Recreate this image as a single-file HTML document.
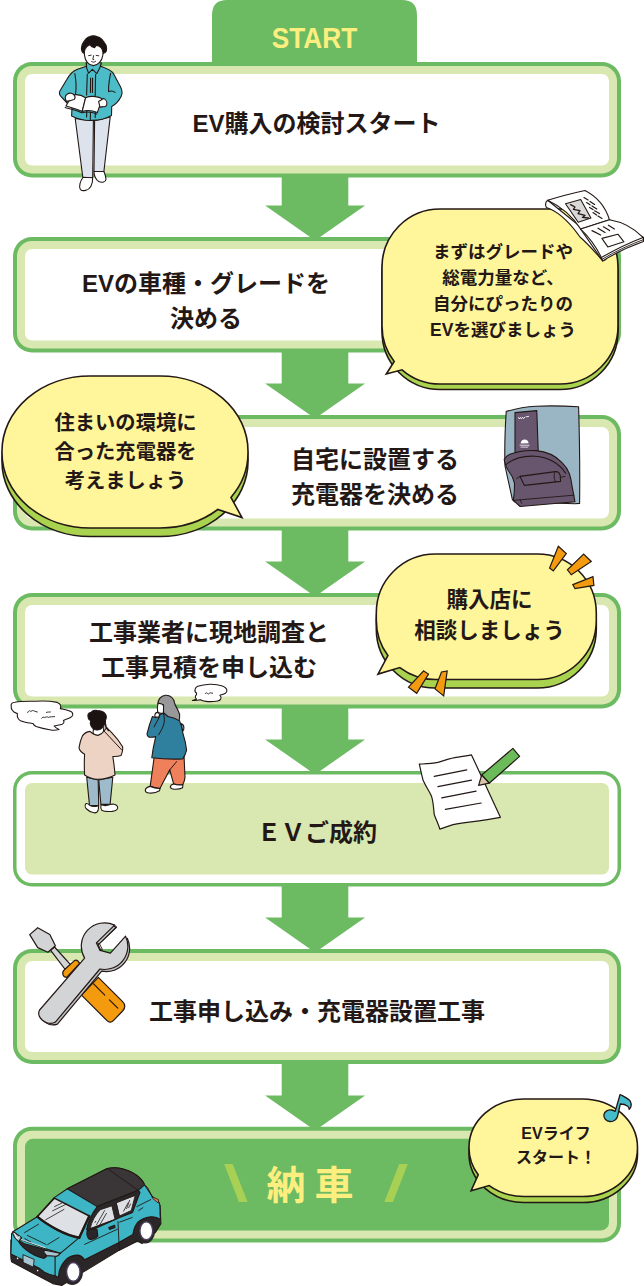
<!DOCTYPE html>
<html lang="ja">
<head>
<meta charset="utf-8">
<title>EV購入から納車までの流れ</title>
<style>
html,body{margin:0;padding:0;background:#fff;}
body{width:644px;height:1286px;position:relative;overflow:hidden;font-family:"Liberation Sans","Noto Sans CJK JP",sans-serif;color:#231815;}
#stage{position:absolute;left:0;top:0;width:644px;height:1286px;overflow:hidden;}
svg.layer{position:absolute;left:0;top:0;width:644px;height:1286px;display:block;}
.t{position:absolute;font-weight:700;text-align:center;white-space:nowrap;margin:0;}
.main{font-size:24px;line-height:36px;}
.sl{font-size:51px;line-height:60px;width:40px;color:#a8d055;transform-origin:50% 50%;}
</style>
</head>
<body>
<div id="stage">
<!-- ===== base layer: tab, arrows, boxes ===== -->
<svg class="layer" id="base" viewBox="0 0 644 1286">
  <!-- START tab -->
  <path d="M212 66 V15 Q212 0 227 0 H402 Q417 0 417 15 V66 Z" fill="#6cbb62"/>
  <!-- arrows -->
  <g fill="#6cbb62">
    <polygon points="281.7,-34 348.3,-34 348.3,0 365.1,0 315.1,35.1 265.1,0 281.7,0" transform="translate(0,205.4)"/>
    <polygon points="281.7,-34 348.3,-34 348.3,0 365.1,0 315.1,35.1 265.1,0 281.7,0" transform="translate(0,383.4)"/>
    <polygon points="281.7,-34 348.3,-34 348.3,0 365.1,0 315.1,35.1 265.1,0 281.7,0" transform="translate(0,561.4)"/>
    <polygon points="281.7,-34 348.3,-34 348.3,0 365.1,0 315.1,35.1 265.1,0 281.7,0" transform="translate(0,739.4)"/>
    <polygon points="281.7,-34 348.3,-34 348.3,0 365.1,0 315.1,35.1 265.1,0 281.7,0" transform="translate(0,917.4)"/>
    <polygon points="281.7,-34 348.3,-34 348.3,0 365.1,0 315.1,35.1 265.1,0 281.7,0" transform="translate(0,1095.4)"/>
  </g>
  <!-- boxes -->
  <g id="boxes">
    <g><rect x="13" y="62" width="608" height="115.5" rx="19" fill="#6cbb62"/><rect x="17" y="66" width="600" height="107.5" rx="15" fill="#d9e8b0"/><rect x="25" y="74" width="584" height="91.5" rx="7" fill="#fff"/></g>
    <g><rect x="13" y="237" width="608" height="115.5" rx="19" fill="#6cbb62"/><rect x="17" y="241" width="600" height="107.5" rx="15" fill="#d9e8b0"/><rect x="25" y="249" width="584" height="91.5" rx="7" fill="#fff"/></g>
    <g><rect x="13" y="415" width="608" height="115.5" rx="19" fill="#6cbb62"/><rect x="17" y="419" width="600" height="107.5" rx="15" fill="#d9e8b0"/><rect x="25" y="427" width="584" height="91.5" rx="7" fill="#fff"/></g>
    <g><rect x="13" y="593" width="608" height="115.5" rx="19" fill="#6cbb62"/><rect x="17" y="597" width="600" height="107.5" rx="15" fill="#d9e8b0"/><rect x="25" y="605" width="584" height="91.5" rx="7" fill="#fff"/></g>
    <g><rect x="13" y="771" width="608" height="115.5" rx="19" fill="#6cbb62"/><rect x="16.5" y="774.5" width="601" height="108.5" rx="15.5" fill="#fff"/><rect x="25" y="783" width="584" height="91.5" rx="7" fill="#d9e8b0"/></g>
    <g><rect x="13" y="949" width="608" height="115" rx="19" fill="#6cbb62"/><rect x="17" y="953" width="600" height="107" rx="15" fill="#d9e8b0"/><rect x="25" y="961" width="584" height="91" rx="7" fill="#fff"/></g>
    <g><rect x="13" y="1126.8" width="608" height="115.6" rx="19" fill="#6cbb62"/><rect x="17" y="1130.8" width="600" height="107.6" rx="15" fill="#d9e8b0"/><rect x="25" y="1138.8" width="584" height="91.6" rx="8" fill="#6cbb62"/></g>
  </g>
</svg>

<!-- ===== main texts ===== -->
<p class="t" style="left:212px;width:205px;top:17.5px;font-size:29px;line-height:40px;color:#fcee7f;transform:scaleX(0.905);transform-origin:50% 50%;">START</p>
<p class="t main" style="left:116.5px;width:400px;top:106px;">EV購入の検討スタート</p>
<p class="t main" style="left:6px;width:400px;top:266px;line-height:35px;">EVの車種・グレードを<br>決める</p>
<p class="t main" style="left:175px;width:400px;top:442.3px;line-height:35px;">自宅に設置する<br>充電器を決める</p>
<p class="t main" style="left:9px;width:400px;top:616.3px;line-height:34.6px;">工事業者に現地調査と<br>工事見積を申し込む</p>
<p class="t main" style="left:117px;width:400px;top:814.5px;">ＥＶご成約</p>
<p class="t main" style="left:117px;width:400px;top:993.5px;">工事申し込み・充電器設置工事</p>
<p class="t" style="left:110px;width:400px;top:1162px;font-size:39px;line-height:48px;color:#fcee7f;letter-spacing:9px;text-indent:9px;">納車</p>
<p class="t sl" style="left:216.4px;top:1153.5px;transform:skewX(7deg) scaleX(1.42);">\</p>
<p class="t sl" style="left:376px;top:1153.5px;transform:skewX(-7deg) scaleX(1.42);">/</p>

<!-- ===== overlay layer: bubbles + illustrations ===== -->
<svg class="layer" id="over" viewBox="0 0 644 1286" stroke-linecap="round" stroke-linejoin="round">
<g id="man" stroke="#231815" stroke-width="1.1" fill="none">
  <!-- legs -->
  <path d="M75.2 118.5L82.8 177.3L92.7 177.8L93.4 120.5Z" fill="#dce3ec"/>
  <path d="M94.6 120.5L94 171.5L103.9 171.5L110.2 117Z" fill="#dce3ec"/>
  <!-- shoes -->
  <path d="M83 177.2C80.3 181 78.6 186.5 80.3 189.3C82.6 192 88.6 190.4 90.8 186.4C92.4 183.4 92.9 180.4 92.6 177.8Z" fill="#fff"/>
  <path d="M94 171.5C93.8 175 95.8 180 98.8 181.6C101.8 183 105.8 182.2 106 179.2C106 176.4 104.6 173.4 103.9 171.5Z" fill="#fff"/>
  <!-- neck band -->
  <path d="M86.3 62.8L86.7 68.2L93.5 75L99.9 67.8L101.1 62.8Z" fill="#4cbcc8"/>
  <!-- shirt -->
  <path d="M86.5 66.3L77.5 69.2C72.5 71 69.5 74.5 66.8 79.5L59.9 91C58.8 93.2 59.6 95.4 61.8 97.4L67.5 103.5L72 108L71.6 116C78 119.2 86 120.8 92 120.4C99 120.4 106 118.6 111.5 115.4L111.7 106.5C115.4 104.4 119.2 100.4 121.2 96.2C122.6 93.2 122.2 90.2 120.6 87L113.4 73.4C111.4 70.4 107.4 68.6 100.8 66.2L93 68Z" fill="#4cbcc8"/>
  <!-- collar -->
  <path d="M86.3 62.8L86.7 68.2L88.6 73.2L92.5 69.4L96.8 73.6L99.9 67.8L101.1 62.8" fill="#4cbcc8"/>
  <!-- placket -->
  <path d="M87.3 74L86.6 95M95.6 74.5L95.2 95.5M90.6 78L90.4 92.5M92.6 78L92.4 92.5M86.8 110.5L86.6 117M90.5 112L90.3 120M95.4 111L95.2 117.5" />
  <!-- arm creases -->
  <path d="M74.8 73.5C76 80 76.4 88 75.6 93.6M110.6 73.2C109.4 79 108.4 86 108.6 91.6M108.6 91.6C111 90.6 113.6 91 115 92.4"/>
  <!-- hair -->
  <path d="M84.4 53.6C82.6 52.8 81.4 50.6 81.4 48.2C81.6 45.4 82.6 43 84.2 41.2C85.8 38.6 88 36.8 90.5 36.2C92.8 35.6 95.4 35.8 97.5 36.8C100.2 37.6 102.4 39.4 103.8 41.9C105.4 43.6 106.6 45.8 106.6 48.2C106.8 50 106.2 51.8 105.2 52.6L103 53.6Z" fill="#1a1311"/>
  <!-- face -->
  <path d="M84.4 53.2L84.5 55.4C85 61 89 65.4 93.3 65.6C97.6 65.5 102 61.2 102.8 55.4L103 52.6C102.8 50.6 102 48.8 101 47.5C99.6 46 98 45.4 96.1 45.4L94.6 47.6L91.9 46.8L89.8 44.7C87.6 45.6 85.8 47.4 84.9 49.6C84.4 50.8 84.2 52 84.4 53.2Z" fill="#fff"/>
  <path d="M88.6 55.6L91.2 55.2M96.2 55.4L98.8 55.8M93.6 55.6L92.8 59.4L93.8 59.6M91.6 61.6C92.8 62.4 94.4 62.4 95.6 61.4" stroke-width="0.9"/>
  <!-- book -->
  <path d="M66 106L72.4 95C76.4 94.2 82 95.2 85.6 97.8L82.2 111.4C78 109.4 71 107.8 66 106Z" fill="#fff"/>
  <path d="M85.6 97.8C90 95.6 97 96 102 98.6L97.4 112.6C92.4 110.4 87 110 82.2 111.4Z" fill="#fff"/>
  <path d="M65.2 107.4C70 109 77 110.4 81.8 112.8C86.6 111.4 92 111.8 96.8 114"/>
  <!-- hands -->
  <path d="M66.6 101.4C64.6 99 64.8 95.6 67.4 94C69.8 92.4 73 93 74.4 95.4C75.4 97 75 98.6 74.2 99.4L70.4 100.6Z" fill="#fff"/>
  <path d="M98.6 101.4L103.6 98.6C105.8 99.4 107.2 102 106.8 104.4C106.4 106.4 104.4 107.2 102.6 106.6L100 107.4Z" fill="#fff"/>
</g>
<g id="bub1">
<rect x="382" y="214.5" width="236" height="175" rx="58" ry="58" fill="#a9d24f" stroke="#231815" stroke-width="1.6"/>
<path d="M440 209H560A58 58 0 0 1 618 267V326A58 58 0 0 1 560 384H440A58 58 0 0 1 402 369.8L386.3 374L394.2 361.5A58 58 0 0 1 382 326V267A58 58 0 0 1 440 209Z" fill="#fff59a" stroke="#231815" stroke-width="1.6" stroke-linejoin="miter"/>
</g>
<g id="magazine" stroke="#231815" stroke-width="1.1" fill="#fff">
  <!-- page stack (left thickness) -->
  <path d="M547.7 200.3C545.4 202 545 204.6 546.4 207.6C557 211 568 221 577.5 233.6L580 237C588 244 596 253 602.7 260.9L606 259.4L582 228Z"/>
  <!-- lower stack right -->
  <path d="M602.7 260.9C616 252.6 630 246.4 643.4 241.6L643.6 237.4L609.5 219.8L580.7 229.1Z"/>
  <!-- upper page -->
  <path d="M547.7 200.3C560 196.4 572.6 193.2 584.9 190.5C596 196 605 205.6 609.5 219.8L580.7 229.1C572.6 216.4 561 206.6 547.7 200.3Z"/>
  <!-- lower page -->
  <path d="M580.7 229.1L609.5 219.8C622.4 222 634.4 228.6 643 237.4C629.6 242.6 615 249.4 601.4 257.6C596.6 247.6 589.6 237.6 580.7 229.1Z"/>
  <path d="M601.4 257.6L602.7 260.9M643 237.4L643.5 239.6C630 244.6 616 251 602.2 259.2" fill="none" stroke-width="0.9"/>
  <!-- picture -->
  <path d="M565.5 203.7L580.7 199.5L590.9 218.1L578.2 222.3Z" fill="#d9d9d9"/>
  <path d="M570.6 204.6L575 207L573.4 209.4L580 210.6L578 213.6L585 215.4L582.4 217.4L588.4 218" fill="none" stroke-width="1.3"/>
  <!-- text lines upper -->
  <path d="M584 197.6L588 200M590 201.4L594.6 204.4M586.6 202.6L590 204.8M592 206L596.8 209M589.6 207.4L593 209.6M594.6 210.8L599.4 213.6M593 212.6L596.6 215M598 216L602 218.4" fill="none" stroke-width="1.2"/>
  <!-- text lines lower -->
  <path d="M592 230.6L600.6 235M598 228.2L605 232.4M603.4 226.8L609.6 230.6M608.4 225.2L614.4 229" fill="none" stroke-width="1.2"/>
  <path d="M601.9 238.4L617.9 234.2L623.9 241.8L607.8 246.9Z"/>
</g>
<g id="bub2">
<rect x="2" y="384.5" width="246" height="152" rx="88" ry="75" fill="#a9d24f" stroke="#231815" stroke-width="1.6"/>
<path d="M90 376H160A88 75 0 0 1 248 451V453A88 75 0 0 1 230.9 497.4L242 517.5L217.8 509.5A88 75 0 0 1 160 528H90A88 75 0 0 1 2 453V451A88 75 0 0 1 90 376Z" fill="#fff59a" stroke="#231815" stroke-width="1.6" stroke-linejoin="miter"/>
</g>
<g id="charger" stroke="#231815" stroke-width="1.1">
  <!-- body -->
  <path d="M506.2 411.6C516 408.4 526 406.6 536 406.2C551 405.6 566 406 578.6 406.8C579.6 440 580 472 579.6 503.4L575 503.8L514.6 501.8L512.4 499.6L505 466C504.4 448 505 430 506.2 411.6Z" fill="#9ab6c4"/>
  <!-- panel -->
  <path d="M515 412.6L536.8 410.6L538.2 451L515 452.6Z" fill="#68566e"/>
  <!-- cradle -->
  <path d="M504.2 459.2C505.6 457 507.6 455.4 509.8 454.3C518 451.2 527 450 535.9 450.6C546 451.4 555.6 455.6 562 462.7C565.4 466 568 469.8 569.4 473.8C570.8 478 571.6 482.4 572.2 486.9L575 501.8L520.1 506.5L513.4 500.4C514.2 494.4 514.6 488.6 514.5 483.2C513.6 478.6 511.4 474.6 508.6 471C506.4 467.4 504.6 463.6 504.2 459.2Z" fill="#68566e"/>
  <path d="M506 464.6C513 458.6 524 455.6 535 456.2C547.6 457 559.4 463 565.6 473.2" fill="none"/>
  <path d="M513.4 500.4L573.8 495.2M521.6 503.2L520.2 500" fill="none" stroke-width="0.9"/>
  <!-- slot -->
  <path d="M520 476.4L555.4 471.6C557.6 471.4 559.6 473 560.2 475.4L560.6 481.4L524.4 485.4Z" fill="#68566e"/>
  <path d="M555.4 471.6C553.6 474 553.6 478.6 555.6 482M516.6 478.6L520 476.4M560.4 477.4L565 476.4" fill="none" stroke-width="0.9"/>
  <!-- logo marks -->
  <path d="M518.6 417.6L519.4 419L520.4 417.4L521.4 418.8L522.6 417.2L523.6 418.6L525 417M526.4 416.8L528.6 416.4" stroke="#fff" stroke-width="0.9" fill="none"/>
  <path d="M520.6 443.4C520.8 441 522.6 439.6 524.6 439.6C526.8 439.6 528.4 441 528.6 443.2Z" fill="#fff" stroke="none"/>
  <path d="M520 445.2H529.2M521 447.2L522 446.8L523 447.4L524 446.8L525 447.4L526 446.8L527 447.4L528 446.8" stroke="#fff" stroke-width="0.8" fill="none"/>
</g>
<g id="bub3">
<rect x="376.3" y="562.5" width="220" height="125.5" rx="59" ry="59" fill="#a9d24f" stroke="#231815" stroke-width="1.6"/>
<path d="M435.3 554H537.3A59 59 0 0 1 596.3 613V620.5A59 59 0 0 1 537.3 679.5H435.3A59 59 0 0 1 399.8 667.6L378 674.1L387.9 655.6A59 59 0 0 1 376.3 620.5V613A59 59 0 0 1 435.3 554Z" fill="#fff59a" stroke="#231815" stroke-width="1.6" stroke-linejoin="miter"/>
</g>
<g id="sparks" stroke="#231815" stroke-width="1.2" fill="#f39a0e" stroke-linejoin="miter">
  <path d="M558.3 546.3L566.3 553.5L553.3 570.9L549.6 568Z"/>
  <path d="M583.7 554.1L591.3 561.5L571.3 574.8L567.4 569.8Z"/>
  <path d="M593 576.7L593.9 585.4L575 588.7L572.8 584.6Z"/>
  <path d="M423.7 670.9L428.5 674.1L416.7 693.3L408.5 687.2Z"/>
  <path d="M441.5 672L447.2 670.9L443.7 695.9L435 688.9Z"/>
</g>
<g id="people" stroke="#231815" stroke-width="1.1" fill="none">
  <!-- thought clouds -->
  <path d="M11.2 706.1C10.6 703.6 12.4 702.4 14.9 702.2C22 701 29 701.4 36.1 701.2C43 700.8 50.6 701 57.2 702.4C60 703.4 61.6 705.6 60.3 708.6C64.4 709.6 69.6 710 72.1 712.4C73.4 714.4 72.8 716.2 70.8 717.3C68.6 718.6 65.6 719.4 63.4 720.4C64.6 722 63.8 723.4 62.1 724.2C59.6 725.2 56.6 725.2 54.1 726C55.4 727.4 57.2 728.6 59 729.5C56.4 730.2 53.6 730.4 51 730C45.8 729.2 40.8 728.2 36.1 726.6C34.6 725.8 33.6 724.8 33 723.5C28.6 722.8 23.6 722.2 19.9 720.4C17.6 718.6 17 716 17.4 713.6C15.4 713 13.4 712 12.5 710.5C11.4 709.2 11 707.6 11.2 706.1Z" fill="#fff"/>
  <path d="M27.6 712.6C28.4 710.6 30 710 30.8 711.6C32 710.4 33.4 710.2 34.6 711.2C35.6 711.6 36.4 711.8 37.4 712M46.4 712.4C47.6 711.8 49 712.2 50.4 712M41.6 718.2C42.6 717 43.8 716.8 44.8 717.6C46 716.8 47.2 716.6 48.2 717.4C50.4 716.6 52.4 716.8 54.6 716.6" stroke-width="0.9"/>
  <path d="M192.4 700.5C194 700.3 195.4 699.8 196.6 699.1C195.4 698.2 195 697 195.5 696C196.4 695.2 196.8 694.2 196.6 693.2C195.2 692.2 194.6 690.6 195.1 689.4C195.4 688 196.4 686.8 197.8 686.3C201.6 685.2 205.8 684.6 209.8 684.3C214 684.2 218.4 684.6 222.3 685.9C224.8 686.8 226.6 688.2 226.9 690.1C227 691.4 226.4 692.6 225.4 693.2C223.8 694.2 221.6 694.6 219.9 695.2C221 696.4 221.4 697.8 220.7 699.1C220 700.2 218.8 700.8 217.6 701C213.8 701.6 209.8 701.8 206 701.4C204 701.2 202 700.8 200.5 699.8C198 700.4 195 700.7 192.4 700.5Z" fill="#fff"/>
  <path d="M205.2 693.6C205.8 692.8 206.6 692.6 207.2 693.2C207.8 694 208.4 694.2 209 693.6C209.8 692.8 210.6 692.6 211.2 693C211.8 693.2 212.2 693.2 212.6 693.2" stroke-width="0.9"/>

  <!-- person A (back view) -->
  <path d="M86.7 777.2L89.5 805.4L98.7 805.6L98.2 779.9Z" fill="#9ebbcb"/>
  <path d="M98.7 779.9L100.9 804.4L110.1 804.4L112.8 777.2Z" fill="#9ebbcb"/>
  <path d="M86 803.6C84.6 805.2 85 807.6 86.6 809C88.6 811 91.4 812.6 94 812.8C96.2 813 97.8 811.8 98.2 809.8C98.6 808.2 98.6 806.6 98.4 805.4C95.6 806.8 92.2 806.8 89.6 805.2C88.6 804.2 87.2 803.4 86 803.6Z" fill="#fff"/>
  <path d="M101 804.8C100.6 806.6 100.8 808.8 101.8 810.2C104 811.6 108 811.6 112 811.4C114.6 811.2 117 810.4 117.6 808.4C118 806.4 116.4 804.6 114 804.2C112.6 804 111.2 804.2 110 804.6C107.2 805.8 103.8 805.8 101 804.8Z" fill="#fff"/>
  <!-- neck -->
  <path d="M93.6 727L93 733.6L98 736.4L103.4 733.8L104 722.6Z" fill="#fff"/>
  <!-- sweater -->
  <path d="M90 731.4C87 731.8 84.2 733.2 82.4 735.9C80.6 739.6 79.6 743.8 79 747.6C79.4 750.6 82 752.8 84.6 754.3C84.2 761 84.2 768 84.6 775C88.6 777.8 93 779.2 97.6 779.3C103.8 779.2 110 777.8 115 775C114.6 768.8 113.8 762.6 112.8 756.5C115.6 756.6 118.6 756.4 121 755.4C122.4 752.6 123 749.6 122.6 746.7C119.6 741.6 115.8 736.8 111.7 732.6L106.6 727.6L104 731C102.6 733.2 100.6 734.6 98 735.4C95 735.2 92.2 733.6 90 731.4Z" fill="#ecd3c4"/>
  <path d="M104 731L121.4 749.6" stroke-width="1"/>
  <!-- hand + phone -->
  <path d="M104 722.8C105.2 723.4 106 725 106 727L108.4 730.4" stroke-width="1.6"/>
  <!-- hair -->
  <path d="M88 716.6C87.4 714.2 89 712.6 91 712.4C92.4 710.6 95 710 97.4 710.6C100.4 710.6 103.6 711.6 105.4 714C106.8 716 106.4 718.4 105.4 720.4C106 722.6 104.6 724.6 103.2 725.6C103 727.6 101 729.6 98.6 729.8C96 730.4 93.4 729.4 92.2 727.6C90.4 725.6 90 723 90.8 720.6C89 720 88.2 718.4 88 716.6Z" fill="#1a1311"/>

  <!-- person B -->
  <path d="M154.2 757L150.2 786.1C153.4 787.6 156.8 788.4 160 788.3L169.8 769.8L173.6 783.9C176.6 784.8 179.8 785 182.8 784.5C184 782.2 184.8 779.8 185 777.4L184 755Z" fill="#ee805c"/>
  <path d="M169.8 769.8L176.6 761.6" stroke-width="1"/>
  <path d="M150.2 786.4C148 786.8 145.8 788 145.3 790C145.2 791.8 147 792.8 149 793C152.6 793.4 156.6 792.6 159.4 790.8L160.2 788.4C156.8 788.6 153.4 787.8 150.2 786.4Z" fill="#fff"/>
  <path d="M173.6 784C171.8 784.4 170.4 785.6 170.3 787.2C170.6 788.6 172.4 789.2 174.4 789.3C177.4 789.4 180.6 789 182.6 787.8L182.9 784.6C179.8 785.2 176.6 785 173.6 784Z" fill="#fff"/>
  <!-- bag bit -->
  <path d="M180.8 723.6C182.6 724 183.8 725.6 183.9 727.6C184 729 183.6 730.2 182.8 731Z" fill="#a9cfe6"/>
  <!-- hair -->
  <path d="M157.8 704.6C157.6 700 160.6 695.8 165.4 695.3C170.4 695 174.2 698.6 174.7 703.5C175.6 706.6 177.6 708.6 178.4 711.4C179.8 713.4 180 715.6 179.6 717.6L179 721.6L167.6 716.5L163.6 712.6L163.3 704.6Z" fill="#98989b"/>
  <!-- face -->
  <path d="M158.2 703.4C157.2 706 157 709 157.6 711.6C159 713.2 161.4 713.6 163.4 713L163.6 705.6C162.6 704 160 703.2 158.2 703.4Z" fill="#fff"/>
  <!-- jacket -->
  <path d="M163.3 713.3C165 714 166.6 715.2 167.6 716.5C171.8 717 176 718.6 179.6 720.9C181.2 724.8 182.2 728.8 182.8 732.8C184.6 738.4 186 744.2 186.6 750.2C185.8 753.4 184.4 756.4 182.8 758.9C172.6 759.4 162 759 151.8 757.8C152.6 750.6 154 743.6 155.7 736.6C153.4 737.2 151 737.4 149.1 737.2C147.8 736.4 147 735.2 147 733.9C148.4 728 150.2 722.2 152.4 716.5L155.4 717.6C157.4 716.6 160 714.4 163.3 713.3Z" fill="#2f7f9f"/>
  <path d="M163.3 713.3C165.4 718.8 164.4 725 161 730.6C160.2 732.2 159.4 733.6 158.6 734.8M159.6 716.6L154 727" stroke-width="1"/>
  <!-- hand -->
  <path d="M155 716.8C154.6 714.8 155.6 712.8 157.4 712.4C158.6 712.6 159.4 713.6 159.6 714.8L158.6 717.4Z" fill="#fff"/>
</g>
<g id="paper" stroke="#231815" stroke-width="1.2" fill="none">
  <path d="M419.3 764.2C425.6 763.8 431.8 763.6 437.9 762.4C443.6 760.6 449 758.8 454.7 757.7C460.4 756.8 466 756 471.5 754.9L500.4 817.3C490 819.4 479.6 820.8 469.2 822.2C462.6 823 456.2 823.6 450 825.6L439.8 829.1C438.4 824.2 436 819.4 434.2 814.5C433.6 808.2 433.4 802 431.4 795.9C428.8 790.6 425.4 785.6 423 780C421.6 774.8 420.6 769.4 419.3 764.2Z" fill="#fff"/>
  <path d="M434.2 776.3L466.8 769.8M437.9 786.6L471.5 780.1M441.7 797.8L476.1 791.2M445.4 809.3L481.2 803"/>
  <path d="M512.9 748.4L519.6 756.4L489.2 783.2L481.7 775Z" fill="#6cbb5a"/>
  <path d="M481.7 775L489.2 783.2L478.6 785.3Z" fill="#d8c4a8"/>
</g>
<g id="tools" stroke="#231815" stroke-width="1.2" fill="none">
  <!-- screwdriver handle -->
  <path d="M81.5 995.1L98.3 977.4L122.6 1001.6C125.6 1004.6 125.4 1008.2 122.6 1011L113.6 1020.4C111.4 1022.6 109 1022.8 107 1020.6Z" fill="#f39a0e"/>
  <path d="M93.6 983.9L104.8 995.1M109.4 999.8L117.8 1008.2"/>
  <!-- shaft -->
  <path d="M50.7 950.4L65.6 970L71.2 965.3L54.5 947Z" fill="#d3d4d5"/>
  <!-- blade -->
  <path d="M37.7 927.7L49.8 934.6L55.4 945.7L47.9 952.3L37.7 947.6L29.7 934.6Z" fill="#d3d4d5"/>
  <!-- collar -->
  <path d="M62.9 974.6C62.4 972.6 63 971 64.4 969.8L74.4 960.6C76 959.8 78 960.4 79.6 963.4L66.6 977.4C65 977.4 63.6 976.4 62.9 974.6Z" fill="#f39a0e"/>
  <!-- wrench (thickness) -->
  <path d="M116.4 927.3L98.2 944.9L101.9 952.4L112.2 955.2L127.4 938.4A23.3 23.3 0 0 1 101.7 971.2L57.4 1024.1C52 1026 46 1024.6 43.6 1020L86.4 960.3A23.3 23.3 0 0 1 116.4 927.3Z" fill="#bfc0c1"/>
  <!-- wrench -->
  <path d="M114.6 925.1L96.4 942.9L100.1 950.4L110.4 953.2L125.6 936.2A23.3 23.3 0 0 1 99.9 969L55.4 1022.1C50.6 1025.2 42.6 1022.6 39.4 1016.4C38.4 1014.2 38.6 1011.8 39.6 1010L84.6 958.1A23.3 23.3 0 0 1 114.6 925.1Z" fill="#d3d4d5"/>
  <path d="M114.6 925.1L116.6 927L99.4 943.6L96.4 942.9M99.4 943.6L102.4 949.4L100.1 950.4" stroke-width="0.9"/>
</g>
<g id="car" stroke="#231815" stroke-width="1.1" fill="none">
  <!-- dark base: bumper, sills, arches -->
  <path d="M10.9 1240L10.9 1254C10.6 1257 11 1259.6 11.6 1261.8L52.8 1283.6L62 1285.4L84 1271.6L118.9 1250.4L137.6 1241.1L142 1243.6L155.3 1232.6L160.9 1223.6L160 1205L60 1240Z" fill="#2b2728"/>
  <!-- tires -->
  <ellipse cx="72.3" cy="1272.3" rx="10.6" ry="12.8" fill="#2b2728" stroke="none"/>
  <ellipse cx="145.2" cy="1231.4" rx="9.8" ry="12" fill="#2b2728" stroke="none"/>
  <ellipse cx="73.3" cy="1271.9" rx="6.7" ry="9.4" fill="#fff" stroke="#4b3f5e" stroke-width="1.4"/>
  <ellipse cx="146.3" cy="1230.8" rx="6.4" ry="9" fill="#fff" stroke="#4b3f5e" stroke-width="1.4"/>
  <!-- teal body -->
  <path d="M13.2 1231.5L37.3 1216.7L54.3 1197.6L67.3 1188.8L107.3 1168.5C112 1167.6 117 1167.6 121.2 1168.5C127 1169.8 132.6 1172.4 136.8 1175.5C140.4 1178.2 143 1181.4 144.5 1184.8L152.3 1196.5L159.3 1202.7C160 1206 160.2 1209.4 160 1212.8L160.4 1219.4C157.6 1217.4 154.2 1216.6 150.6 1216.9C145.6 1217.6 140.6 1219.6 137.6 1222.5C134.8 1226 133.4 1230.4 132.9 1234.6L118 1242.9L84.5 1259.7C83 1257.4 80.6 1255.6 77.9 1255.1C73.8 1255.2 69.8 1256.4 66.8 1258.8C63.4 1262 60.6 1266.4 59.3 1270.9L58.4 1277.4L55.1 1275.7C51.4 1275.2 48 1274.2 45 1272.6L38.8 1268L10.9 1254L11.6 1233.8Z" fill="#3db5c5"/>
  <!-- front corner edge & hood front edge -->
  <path d="M55.1 1257.1L55.1 1275.7"/>
  <path d="M13.2 1231.5C15.6 1235 18.6 1238 21.7 1240L45 1248.6L60.6 1253.2L79.2 1237.7"/>
  <path d="M60.6 1253.2L55.1 1257.1"/>
  <!-- hood creases -->
  <path d="M24.6 1232.6L38.6 1224.2M31 1242.2L24.8 1238.6M47.6 1244.6L59 1237.6M27.4 1235.4L46 1244.4" stroke-width="0.9"/>
  <!-- grille -->
  <path d="M17.1 1238.4C19.4 1240.8 22 1242.6 24.6 1243.8L45 1249.6L46.6 1256.6L44 1258.4C40.6 1257.6 37.6 1256.6 34.6 1255.2C30.6 1253.2 26.6 1250.6 23.4 1247.6C20.6 1245 18.4 1241.8 17.1 1238.4Z" fill="#2b2728"/>
  <path d="M20.2 1239.2L45 1247.6" stroke="#e8eef0" stroke-width="0.9"/>
  <!-- headlights -->
  <path d="M45 1250.1L59.8 1253.2C59.4 1255 57.8 1256.2 55.9 1256.3L46.6 1255.6L43.6 1252Z" fill="#a9c4d1"/>
  <path d="M13.2 1231.5L21.7 1237.7L18.6 1241.6C15.6 1239.4 13.6 1236.4 12.6 1233.4Z" fill="#a9c4d1"/>
  <path d="M14.6 1233.4L17 1238.6L19.6 1236.6" stroke="#fff" stroke-width="0.8"/>
  <!-- licence plate -->
  <path d="M23.3 1254.8L34.2 1259.4L33.4 1267.2L23.3 1262.5Z" fill="#a9c4d1" stroke-width="0.9"/>
  <circle cx="17.6" cy="1258.4" r="0.8" fill="#fff" stroke="none"/><circle cx="37.6" cy="1270.6" r="0.8" fill="#fff" stroke="none"/>
  <!-- windshield -->
  <path d="M37.3 1216.7L54.3 1198.1L89.3 1216L79.2 1237.7C72 1236.4 64.6 1233.6 57.5 1229.9C50 1226 43 1221.6 37.3 1216.7Z" fill="#dde1e5" stroke-width="1.6"/>
  <path d="M45.6 1219.8L64 1209.4M52.6 1210.8L66.6 1204M54.6 1206.6L61.6 1203.2" stroke-width="0.8"/>
  <path d="M37.3 1216.7C43 1221.6 50 1226 57.5 1229.9C64.6 1233.6 72 1236.4 79.2 1237.7" stroke-width="2.4"/>
  <!-- A pillar -->
  <path d="M89.3 1216L79.2 1237.7" stroke-width="2.4"/>
  <!-- roof -->
  <path d="M67.3 1188.8L107.3 1168.5C112 1167.6 117 1167.6 121.2 1168.5C127 1169.8 132.6 1172.4 136.8 1175.5C140.4 1178.2 143.4 1181.6 144.5 1184.8L138.3 1190.3L97.2 1206.6Z" fill="#3a3637"/>
  <path d="M107.3 1168.5L138.3 1190.3" stroke-width="0.9"/>
  <!-- side window frame -->
  <path d="M97.2 1206.6L138.3 1190.3L140 1192.4L132.6 1212.4L119.7 1217.4L88.6 1231.4L86.6 1229.6C88 1222 91.6 1214 97.2 1206.6Z" fill="#2b2728"/>
  <!-- windows -->
  <path d="M90.2 1228.3C91.6 1221.6 95.4 1214.6 100.3 1209.7L111.9 1205.8L115 1219Z" fill="#dde1e5" stroke-width="0.9"/>
  <path d="M116.6 1202.7L135.2 1195.4L131.3 1210.5L119.7 1215.9Z" fill="#dde1e5" stroke-width="0.9"/>
  <path d="M96.6 1224.6L104.6 1210.6M99.6 1225.2L106.4 1213.4M95 1222.4L95.6 1221.4M123.6 1211.2L128 1203M126.6 1208.6L129.6 1200.4M128.6 1207.6L130.6 1204" stroke-width="0.8"/>
  <!-- mirror -->
  <path d="M87 1231.5C89.6 1229.4 93.6 1228.6 97 1229.2L97.8 1236.1C95.6 1238.4 92.2 1239.6 89.3 1239.3C87.4 1237.4 86.6 1234.4 87 1231.5Z" fill="#2b2728"/>
  <!-- door handle / lines -->
  <path d="M108.8 1227.6L114.6 1225.2L115 1227.6L109.6 1229.6Z" fill="#2b2728"/>
  <path d="M118 1221.6L119.3 1249.6M84.6 1244.4L117.4 1229.2M119.7 1222.1L132.1 1217.5M136.8 1206.6L150.7 1199.6M138.6 1210.6L143 1207.6" stroke-width="0.9"/>
  <!-- tail light -->
  <path d="M152.3 1197L158.5 1199.6L158.2 1203L153.1 1198.8Z" fill="#ee7d4f" stroke-width="0.8"/>
  <path d="M144.5 1184.8L147.6 1187.6L152 1196.4" stroke-width="0.9"/>
</g>
<g id="bub4">
<rect x="469" y="1105" width="168.5" height="97.5" rx="55" ry="48.5" fill="#a9d24f" stroke="#231815" stroke-width="1.6"/>
<path d="M524 1099H582.5A55 48.5 0 0 1 637.5 1147.5V1148A55 48.5 0 0 1 582.5 1196.5H524A55 48.5 0 0 1 489.2 1185.6L471.1 1190.7L478.2 1174.8A55 48.5 0 0 1 469 1148V1147.5A55 48.5 0 0 1 524 1099Z" fill="#fff59a" stroke="#231815" stroke-width="1.6" stroke-linejoin="miter"/>
</g>
<g id="note">
  <path d="M620.1 1094.5C624 1096.6 628.4 1098.6 630.4 1101.4C631.6 1104 631.3 1107 629.2 1109.4C629 1108 628.6 1107 627.7 1106.3C625.6 1104.6 623 1104 620.3 1104L617.6 1116C616.8 1119.6 613.4 1121.8 610 1121.5C606 1121.2 603.4 1118 603.9 1114.6C604.6 1111.4 608 1109.4 611.6 1110C613 1110.3 614.2 1110.8 615.2 1111.3Z" fill="#45bccb" stroke="#231815" stroke-width="1.3"/>
</g>
</svg>

<!-- ===== bubble texts ===== -->
<p class="t" style="left:383px;width:240px;top:239px;font-size:17.5px;line-height:26px;">まずはグレードや<br>総電力量など、<br>自分にぴったりの<br>EVを選びましょう</p>
<p class="t" style="left:5.5px;width:240px;top:409.3px;font-size:20.3px;line-height:29px;">住まいの環境に<br>合った充電器を<br>考えましょう</p>
<p class="t" style="left:369.6px;width:240px;top:584.8px;font-size:21.5px;line-height:31px;">購入店に<br>相談しましょう</p>
<p class="t" style="left:476px;width:160px;top:1121.5px;font-size:16px;line-height:24.5px;">EVライフ<br>スタート！</p>
</div>
</body>
</html>
